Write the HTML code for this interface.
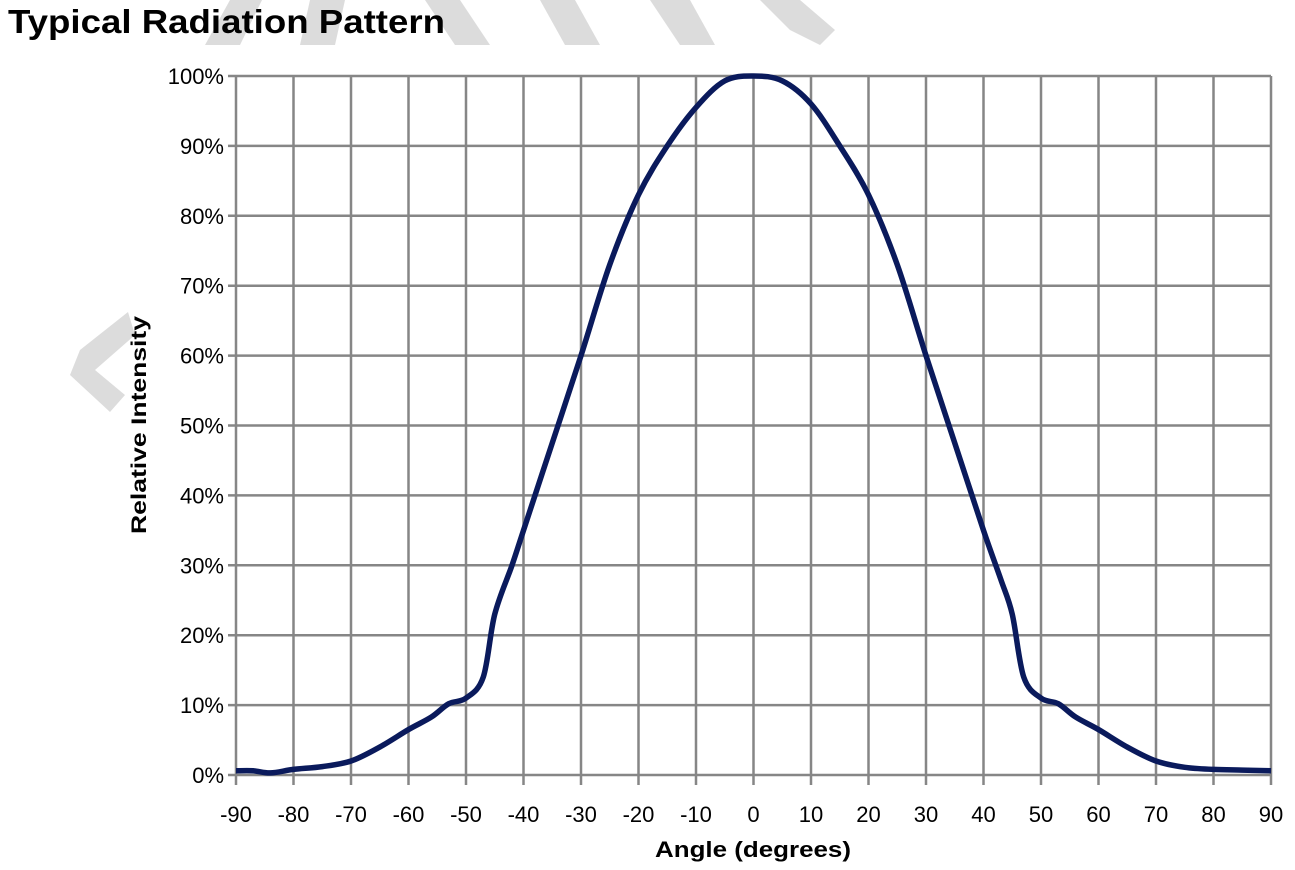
<!DOCTYPE html>
<html><head><meta charset="utf-8"><style>
body{margin:0;background:#fff;}
svg{display:block;font-family:"Liberation Sans",sans-serif;}
</style></head><body>
<svg id="chart" width="1295" height="870" viewBox="0 0 1295 870" xmlns="http://www.w3.org/2000/svg">
<g fill="#dcdcdc">
<polygon points="205,45 230,0 262,0 240,45"/>
<polygon points="310,0 345,0 335,45 300,45"/>
<polygon points="425,0 460,0 490,45 455,45"/>
<polygon points="540,0 575,0 600,45 565,45"/>
<polygon points="650,0 690,0 715,45 680,45"/>
<polygon points="760,0 800,0 835,30 820,45 790,30"/>
<polygon points="128,312 80,350 70,375 110,412 125,395 95,370 135,335"/>
</g>
<text x="8" y="33" font-size="33" font-weight="bold" fill="#000" textLength="437" lengthAdjust="spacingAndGlyphs">Typical Radiation Pattern</text>
<g id="grid"></g>
<g id="yticks"></g>
<g id="xticks"></g>
<text transform="translate(146,425) rotate(-90)" text-anchor="middle" font-size="21" font-weight="bold" textLength="218" lengthAdjust="spacingAndGlyphs">Relative Intensity</text>
<text x="753" y="857" text-anchor="middle" font-size="22" font-weight="bold" textLength="196" lengthAdjust="spacingAndGlyphs">Angle (degrees)</text>
<path id="curve" fill="none" stroke="#0a1a5c" stroke-width="5.5" stroke-linejoin="round"/>
</svg>
<script>
const angles=[-90,-87,-84,-80,-75,-70,-65,-60,-56,-53,-50,-47,-45,-42,-40,-35,-30,-25,-20,-15,-10,-5,0,5,10,15,20,25,30,35,40,43,45,47,50,53,56,60,65,70,75,80,85,90];
const intensity=[0.6,0.6,0.3,0.8,1.2,2,4,6.5,8.3,10.2,11,14,23,30,35,47.5,60,73,83,90,95.5,99.3,100,99.3,96,90,83,73,60,47.5,35,28,23,14,11,10.2,8.3,6.5,4,2,1.1,0.8,0.7,0.6];
const xTicks=[-90,-80,-70,-60,-50,-40,-30,-20,-10,0,10,20,30,40,50,60,70,80,90];
const yTicks=[0,10,20,30,40,50,60,70,80,90,100];
const X0=236,X1=1271,Y0=775,Y1=76;
const xs=a=>X0+(a+90)/180*(X1-X0);
const ys=v=>Y0-v/100*(Y0-Y1);
const NS="http://www.w3.org/2000/svg";
const grid=document.getElementById('grid'),yg=document.getElementById('yticks'),xg=document.getElementById('xticks');
function mk(t,attrs,parent){const e=document.createElementNS(NS,t);for(const k in attrs)e.setAttribute(k,attrs[k]);parent.appendChild(e);return e;}
yTicks.forEach(v=>{
 const l=mk('line',{x1:X0-8,x2:X1,y1:ys(v),y2:ys(v),stroke:'#868686','stroke-width':2.5},grid);
 
 
 const t=mk('text',{x:X0-12,y:ys(v)+8,'text-anchor':'end','font-size':22},yg);
 
 
 t.textContent=v+'%';
});
xTicks.forEach(a=>{
 const l=mk('line',{x1:xs(a),x2:xs(a),y1:Y1,y2:Y0+10,stroke:'#868686','stroke-width':2.5},grid);
 
 
 const t=mk('text',{x:xs(a),y:Y0+47,'text-anchor':'middle','font-size':22},xg);
 
 
 t.textContent=a;
});
const pts=angles.map((a,i)=>[xs(a),ys(intensity[i])]);
let d='M'+pts[0][0]+','+pts[0][1];
for(let i=0;i<pts.length-1;i++){
 const p0=pts[Math.max(0,i-1)],p1=pts[i],p2=pts[i+1],p3=pts[Math.min(pts.length-1,i+2)];
 const c1=[p1[0]+(p2[0]-p0[0])/6,p1[1]+(p2[1]-p0[1])/6];
 const c2=[p2[0]-(p3[0]-p1[0])/6,p2[1]-(p3[1]-p1[1])/6];
 d+=' C'+c1[0]+','+c1[1]+' '+c2[0]+','+c2[1]+' '+p2[0]+','+p2[1];
}
document.getElementById('curve').setAttribute('d',d);
</script>
</body></html>
